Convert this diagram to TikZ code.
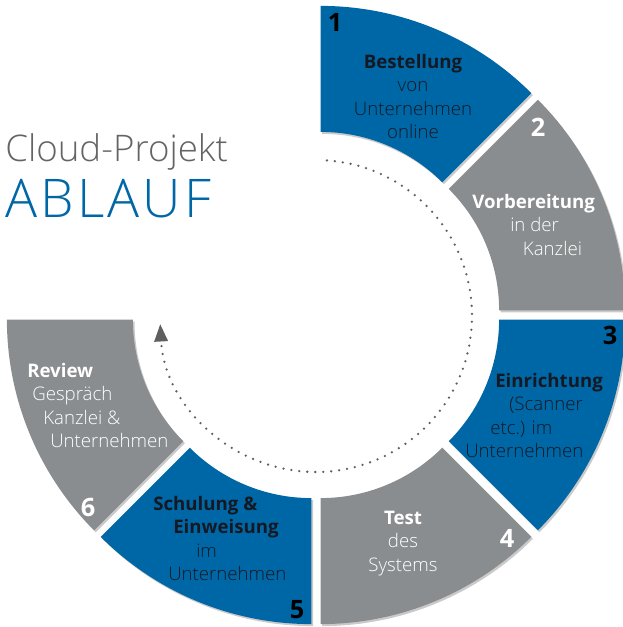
\documentclass[tikz,border=0pt]{standalone}
\usepackage{fontspec}
\setmainfont{Open Sans}
\newfontfamily\thinfont{Open Sans Light}
\newfontfamily\widethinfont[LetterSpace=6]{Open Sans Light}
\usetikzlibrary{arrows.meta,shadows}

\definecolor{ablaufblue}{RGB}{0,103,166}
\definecolor{ablaufgray}{RGB}{138,141,143}
\definecolor{titlegray}{RGB}{100,100,100}
\definecolor{inkdark}{RGB}{20,25,35}
\definecolor{dotgray}{RGB}{95,95,95}

\newcommand{\stephead}[1]{{\normalfont\bfseries #1}}

\tikzset{
  partshadow/.style={drop shadow={shadow xshift=1.2pt,shadow yshift=-1.5pt,opacity=.35,fill=black!60}},
  bluepart/.style={fill=ablaufblue,partshadow},
  graypart/.style={fill=ablaufgray,partshadow},
  steptext/.style={font=\thinfont\fontsize{14}{17.5}\selectfont,inner sep=0pt},
  onblue/.style={steptext,text=inkdark},
  ongray/.style={steptext,text=white},
  stepnum/.style={font=\bfseries\fontsize{19}{19}\selectfont,inner sep=0pt},
  loopline/.style={draw=dotgray,line width=1.9pt,line cap=round,dash pattern=on 0pt off 6pt,
    -{Triangle[length=13pt,width=10pt,fill=dotgray]}}
}

\begin{document}
\begin{tikzpicture}[x=0.75pt,y=0.75pt,yscale=-1,xscale=1]
\useasboundingbox (0,0) rectangle (622,627);

% centres of the six parts, each pushed out a little
\coordinate (c1) at (320.6,303.9);
\coordinate (c2) at (327.1,310.4);
\coordinate (c3) at (327.1,319.6);
\coordinate (c4) at (320.6,326.1);
\coordinate (c5) at (311.4,326.1);
\coordinate (c6) at (304.9,319.6);
\coordinate (cc) at (316,316);

% ring parts
\fill[bluepart] ([shift={(-90:298)}]c1) arc[start angle=-90,end angle=-45,radius=298] -- ([shift={(-45:172)}]c1) arc[start angle=-45,end angle=-90,radius=172] -- cycle;
\fill[graypart] ([shift={(-45:298)}]c2) arc[start angle=-45,end angle=0,radius=298] -- ([shift={(0:172)}]c2) arc[start angle=0,end angle=-45,radius=172] -- cycle;
\fill[bluepart] ([shift={(0:298)}]c3) arc[start angle=0,end angle=45,radius=298] -- ([shift={(45:172)}]c3) arc[start angle=45,end angle=0,radius=172] -- cycle;
\fill[graypart] ([shift={(45:298)}]c4) arc[start angle=45,end angle=90,radius=298] -- ([shift={(90:172)}]c4) arc[start angle=90,end angle=45,radius=172] -- cycle;
\fill[bluepart] ([shift={(90:298)}]c5) arc[start angle=90,end angle=135,radius=298] -- ([shift={(135:172)}]c5) arc[start angle=135,end angle=90,radius=172] -- cycle;
\fill[graypart] ([shift={(135:298)}]c6) arc[start angle=135,end angle=180,radius=298] -- ([shift={(180:172)}]c6) arc[start angle=180,end angle=135,radius=172] -- cycle;

% round arrow
\draw[loopline] ([shift={(-86:156)}]cc) arc[start angle=-86,end angle=177,radius=156];

% title
\node[anchor=base west,inner sep=0pt,text=titlegray,font=\thinfont\fontsize{27.5}{30}\selectfont] (title) at (5,162) {Cloud-Projekt};
\node[anchor=base west,inner sep=0pt,text=ablaufblue,font=\widethinfont\fontsize{40}{44}\selectfont] (ablauf) at (5,218) {ABLAUF};

% numbers
\node[stepnum,text=black] (n1) at (335,22) {1};
\node[stepnum,text=white] (n2) at (538,127) {2};
\node[stepnum,text=black] (n3) at (610,335) {3};
\node[stepnum,text=white] (n4) at (507,538) {4};
\node[stepnum,text=black] (n5) at (297,610) {5};
\node[stepnum,text=white] (n6) at (88,507) {6};

% texts
\node[onblue,anchor=north,align=center] (t1) at (413,54) {\stephead{Bestellung}\\von\\Unternehmen\\online};
\node[ongray,anchor=north west,align=left] (t2) at (472,194) {\stephead{Vorbereitung}\\\hspace*{28.5pt}in der\\\hspace*{38pt}Kanzlei};
\node[onblue,anchor=north west,align=left] (t3) at (465,373) {\hspace*{22.5pt}\stephead{Einrichtung}\\\hspace*{33pt}(Scanner\\\hspace*{18.75pt}etc.) im\\Unternehmen};
\node[ongray,anchor=north,align=center] (t4) at (403,511) {\stephead{Test}\\des\\Systems};
\node[onblue,anchor=north west,align=left] (t5) at (153,496) {\stephead{Schulung \&}\\\hspace*{15pt}\stephead{Einweisung}\\\hspace*{32.25pt}im\\\hspace*{11.25pt}Unternehmen};
\node[ongray,anchor=north west,align=left] (t6) at (27,363) {\stephead{Review}\\\hspace*{3.75pt}Gespräch\\\hspace*{12pt}Kanzlei \&\\\hspace*{17.25pt}Unternehmen};

\end{tikzpicture}
\end{document}
